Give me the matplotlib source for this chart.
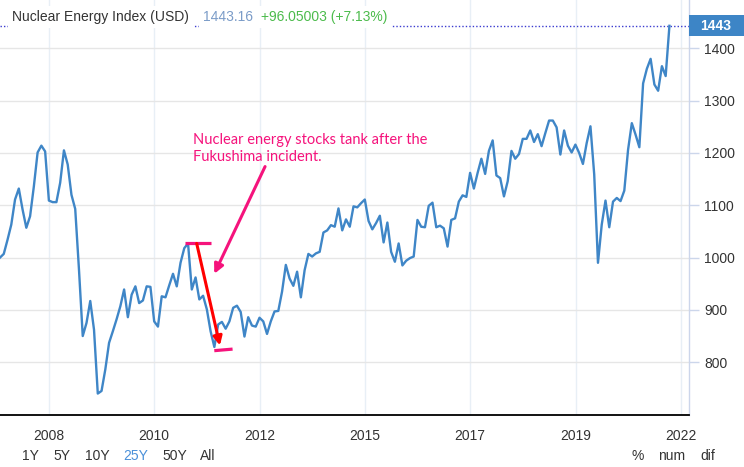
import numpy as np
import matplotlib
matplotlib.use("Agg")
import matplotlib.pyplot as plt
from matplotlib.patches import Rectangle
import matplotlib.transforms as mtransforms

# monthly index values, Mar 2007 .. Jan 2022
start_year = 2007 + 2 / 12
values = [
    1000, 1007, 1034, 1063, 1111, 1132, 1092, 1057, 1079, 1136,
    1201, 1214, 1203, 1109, 1106, 1106, 1143, 1205, 1178, 1120,
    1093, 977, 850, 875, 917, 862, 740, 745, 786, 837,
    859, 882, 907, 939, 886, 929, 945, 913, 918, 945,
    944, 878, 868, 926, 924, 947, 969, 945, 990, 1018,
    1027, 939, 962, 920, 927, 901, 859, 829, 872, 877,
    864, 878, 904, 908, 896, 849, 886, 870, 868, 885,
    878, 854, 878, 897, 898, 935, 986, 960, 946, 973,
    924, 976, 1007, 1002, 1008, 1011, 1048, 1052, 1062, 1059,
    1094, 1052, 1073, 1059, 1098, 1096, 1104, 1111, 1070, 1054,
    1066, 1080, 1029, 1067, 1011, 992, 1027, 985, 994, 999,
    1002, 1072, 1059, 1058, 1099, 1105, 1058, 1061, 1056, 1021,
    1072, 1075, 1107, 1119, 1116, 1162, 1132, 1162, 1189, 1160,
    1204, 1224, 1157, 1152, 1117, 1146, 1204, 1189, 1198, 1227,
    1227, 1243, 1221, 1236, 1213, 1238, 1262, 1262, 1249, 1197,
    1243, 1214, 1201, 1216, 1200, 1179, 1219, 1251, 1159, 990,
    1063, 1109, 1058, 1107, 1114, 1108, 1128, 1206, 1257, 1235,
    1211, 1333, 1361, 1380, 1331, 1319, 1366, 1347.11, 1443.16,
]

tick_years = [2008.25, 2010.58, 2012.92, 2015.25, 2017.58, 2019.92, 2022.25]
tick_labels = ['2008', '2010', '2012', '2015', '2017', '2019', '2022']
y_ticks = [800, 900, 1000, 1100, 1200, 1300, 1400]
range_buttons = ['1Y', '5Y', '10Y', '25Y', '50Y', 'All']
mode_buttons = ['%', 'num', 'dif']

title = 'Nuclear Energy Index (USD)'
last_txt = '1443.16'
change_txt = '+96.05003 (+7.13%)'
note = 'Nuclear energy stocks tank after the\nFukushima incident.'

years = start_year + np.arange(len(values)) / 12
last = values[-1]
peak_i = 50
trough_i = 57

W, H = 744, 467
fig = plt.figure(figsize=(W / 100, H / 100), dpi=100)
ax = fig.add_axes([0, 1 - 415 / H, 689 / W, 415 / H])

line_color = '#3f86c7'
ax.plot(years, values, color=line_color, lw=1.7, solid_joinstyle='round', zorder=3)

ax.set_xlim(start_year, start_year + 689 / 45.13)
ax.set_ylim(699, 1492.5)

ax.set_xticks(tick_years)
ax.set_xticklabels(tick_labels)
ax.set_yticks(y_ticks)
ax.yaxis.tick_right()
ax.tick_params(axis='y', direction='out', length=7, width=1, color='#ccd6eb',
               labelsize=10, labelcolor='#333333', pad=4)
ax.tick_params(axis='x', length=0, labelsize=10, labelcolor='#333333', pad=10)
for lab in ax.get_xticklabels() + ax.get_yticklabels():
    lab.set_family('Liberation Sans')

ax.grid(axis='y', color='#e6e6e6', lw=1)
ax.grid(axis='x', color='#e8eff6', lw=1)
ax.set_axisbelow(True)

for s in ['top', 'left']:
    ax.spines[s].set_visible(False)
ax.spines['right'].set_color('#ccd6eb')
ax.spines['right'].set_linewidth(1)
ax.spines['bottom'].set_color('black')
ax.spines['bottom'].set_linewidth(1.3)

# dotted last-value line and label box
ax.axhline(last, color='#3c3cd0', lw=1, ls=(0, (1, 1.5)), zorder=2)
trans = mtransforms.blended_transform_factory(ax.transAxes, ax.transData)
ax.add_patch(Rectangle((1.0, last - 20), 55 / 689, 40, transform=trans,
                       facecolor='#3d85c6', edgecolor='none', clip_on=False, zorder=5))
ax.text(1.0 + 27 / 689, last - 1, '%d' % last, transform=trans, ha='center', va='center',
        color='white', fontsize=10, fontweight='bold', family='Liberation Sans', zorder=6)

# header
fig.text(12 / W, 1 - 17 / H, title, ha='left', va='center', fontsize=10,
         color='#333333', family='Liberation Sans',
         bbox=dict(facecolor='white', edgecolor='none', pad=3))
fig.text(203 / W, 1 - 17 / H, last_txt, ha='left', va='center', fontsize=10,
         color='#7b9cc8', family='Liberation Sans',
         bbox=dict(facecolor='white', edgecolor='none', pad=3))
fig.text(261 / W, 1 - 17 / H, change_txt, ha='left', va='center', fontsize=10,
         color='#4cbb4c', family='Liberation Sans',
         bbox=dict(facecolor='white', edgecolor='none', pad=3))

# annotation
pink = '#f5137c'
ax.plot([2011.27, 2011.836], [values[peak_i] + 1, values[peak_i] + 1], color=pink, lw=2.3,
        solid_capstyle='butt', zorder=4)
ax.plot([2011.915, 2012.32], [values[trough_i] - 7, values[trough_i] - 4], color=pink, lw=2.3,
        solid_capstyle='butt', zorder=4)
ax.annotate('', xy=(2012.04, 832), xytext=(2011.525, values[peak_i]),
            arrowprops=dict(arrowstyle='-|>', color='#ff0000', lw=2.2, mutation_scale=13,
                            shrinkA=0, shrinkB=0), zorder=4)
ax.annotate('', xy=(2011.915, 969), xytext=(2013.04, 1174),
            arrowprops=dict(arrowstyle='-|>', color=pink, lw=2.2, mutation_scale=14,
                            shrinkA=0, shrinkB=0), zorder=4)
ax.text(2011.437, 1208, note, ha='left', va='center', fontsize=10.5, color=pink,
        family='Lato', linespacing=1.3, zorder=4)

# bottom buttons
btn_x = [22, 53, 85, 123, 162, 200]
for x, b in zip(btn_x, range_buttons):
    fig.text(x / W, 1 - 456 / H, b, ha='left', va='center', fontsize=10,
             color='#4a90d9' if b == '25Y' else '#333333', family='Liberation Sans')
for x, b in zip([632, 658, 700], mode_buttons):
    fig.text(x / W, 1 - 456 / H, b, ha='left', va='center', fontsize=10,
             color='#333333', family='Liberation Sans')

fig.savefig('out.png', dpi=100)
